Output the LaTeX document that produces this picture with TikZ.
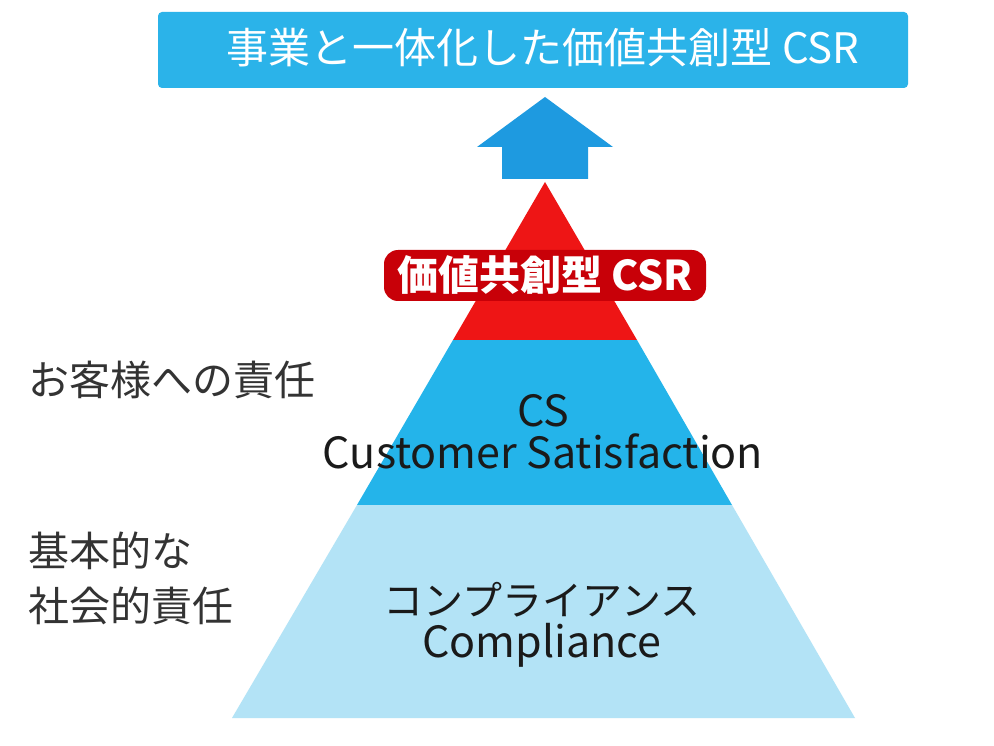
\documentclass[tikz,border=0pt]{standalone}
\usepackage{fontspec}
\setmainfont{Noto Sans CJK JP}
\newfontfamily\jpfont{Noto Sans CJK JP}
\definecolor{bannerblue}{HTML}{2BB3E9}
\definecolor{arrowblue}{HTML}{1E9AE0}
\definecolor{csblue}{HTML}{24B4EA}
\definecolor{lightblue}{HTML}{B3E3F6}
\definecolor{topred}{HTML}{EE1515}
\definecolor{darkred}{HTML}{C80008}
\definecolor{txtdark}{HTML}{1A1A1A}
\definecolor{txtgray}{HTML}{333333}
\newcommand{\latinbig}{\fontsize{43}{42}\selectfont}
\tikzset{
  bigtxt/.style={font=\jpfont\fontsize{40}{42}\selectfont, align=center, text=txtdark, inner sep=0pt},
  sidetxt/.style={font=\jpfont\fontsize{41}{55}\selectfont, align=left, text=txtgray, inner sep=0pt, anchor=west},
}
\begin{document}
\begin{tikzpicture}[x=1pt,y=-1pt]
\useasboundingbox (0,0) rectangle (994,746);
\fill[white] (0,0) rectangle (994,746);
% banner
\node[fill=bannerblue, rounded corners=4pt, minimum width=750pt, minimum height=76pt, inner sep=0pt] (banner) at (533,50) {};
\node[text=white, font=\jpfont\fontsize{42}{42}\selectfont, inner sep=0pt] (bannertxt) at (543,48) {事業と一体化した価値共創型 CSR};
% arrow
\fill[arrowblue] (502,179) -- (502,147) -- (477,147) -- (545,97) -- (613,147) -- (588,147) -- (588,179) -- cycle;
% pyramid layers
\coordinate (apex) at (545,182);
\fill[topred] (apex) -- (637,340) -- (453,340) -- cycle;
\fill[csblue] (453,340) -- (637,340) -- (732,505) -- (357,505) -- cycle;
\fill[lightblue] (357,505) -- (732,505) -- (855,718) -- (232,718) -- cycle;
% red label with outline
\fill[darkred, rounded corners=14pt] (384,250) rectangle (706,301);
\node[font=\jpfont\bfseries\fontsize{41}{41}\selectfont, text=white, inner sep=0pt] (redlbl) at (545,275) {価値共創型 CSR};
% layer texts
\node[bigtxt] (cs) at (543,432) {{\latinbig CS}\\{\latinbig Customer Satisfaction}};
\node[bigtxt] (comp) at (542,625) {コンプライアンス\\{\latinbig Compliance}};
% side labels
\node[sidetxt] (resp1) at (28,380) {お客様への責任};
\node[sidetxt] (resp2) at (28,578) {基本的な\\社会的責任};
\end{tikzpicture}
\end{document}
